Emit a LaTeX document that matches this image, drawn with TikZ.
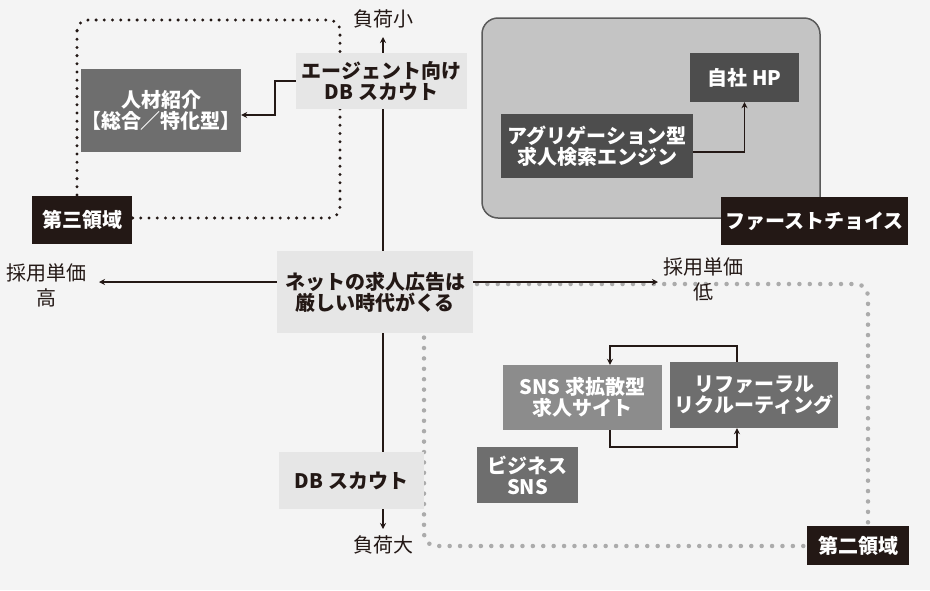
\documentclass[tikz,border=0pt]{standalone}
\usepackage{fontspec}
\setmainfont{Noto Sans CJK JP}
\usetikzlibrary{arrows.meta}
\definecolor{paper}{HTML}{F4F4F4}
\definecolor{ink}{HTML}{231815}
\definecolor{pale}{HTML}{E6E6E6}
\definecolor{zone}{HTML}{C4C4C4}
\definecolor{zoneline}{HTML}{5A5A5A}
\definecolor{deep}{HTML}{4D4D4D}
\definecolor{mid}{HTML}{6E6E6E}
\definecolor{soft}{HTML}{8C8C8C}
\definecolor{dots}{HTML}{ABABAB}
\tikzset{
  box/.style={inner sep=0pt, align=center, font=\fontsize{20}{21}\selectfont\bfseries},
  palebox/.style={box, fill=pale, text=ink},
  greybox/.style={box, fill=#1, text=white},
  tagbox/.style={box, fill=ink, text=white},
  axislabel/.style={align=center, text=ink, font=\fontsize{20}{25}\selectfont},
  conn/.style={draw=ink, line width=1.6pt, -{Stealth[length=6pt,width=6pt]}},
  darkdots/.style={draw=ink, line width=3.3pt, line cap=round, dash pattern=on 0pt off 8.2pt},
  lightdots/.style={draw=dots, line width=4.5pt, line cap=round, dash pattern=on 0pt off 10.4pt}
}
\begin{document}
\begin{tikzpicture}[x=1pt, y=-1pt]
    \fill [paper] (0,0) rectangle (930,590);
    \useasboundingbox (0,0) rectangle (930,590);
    \filldraw [fill=zone, draw=zoneline, line width=1.5pt, rounded corners=16] (482,18) rectangle (820,218);
    \draw [darkdots, rounded corners=11] (77,20) rectangle (340,218);
    \draw [lightdots, rounded corners=12] (424,284) rectangle (868,546);

    \coordinate (axtop) at (383,37);
    \coordinate (axbot) at (383,529);
    \coordinate (axleft) at (99,282);
    \coordinate (axright) at (658,282);

    \node [palebox, minimum width=171, minimum height=56] (agent) at (381.5,81) {エージェント向け\\DB スカウト};
    \node [palebox, minimum width=196, minimum height=82] (net) at (375,292) {ネットの求人広告は\\厳しい時代がくる};
    \node [palebox, minimum width=145, minimum height=57] (dbscout) at (351.5,480.5) {DB スカウト};
    \node [greybox=mid, minimum width=156, minimum height=83] (jinzai) at (161,110.5) {人材紹介\\【総合／特化型】};
    \node [tagbox, minimum width=100, minimum height=48] (daisan) at (82,220) {第三領域};
    \node [greybox=deep, minimum width=109, minimum height=49] (jisha) at (744.5,77.5) {自社 HP};
    \node [greybox=deep, minimum width=192, minimum height=64] (agg) at (597,146) {アグリゲーション型\\求人検索エンジン};
    \node [tagbox, minimum width=187, minimum height=48] (first) at (814.5,221) {ファーストチョイス};
    \node [greybox=soft, minimum width=159, minimum height=65] (sns) at (582.5,397.5) {SNS 求拡散型\\求人サイト};
    \node [greybox=mid, minimum width=168, minimum height=66] (referral) at (754,395) {リファーラル\\リクルーティング};
    \node [greybox=mid, minimum width=101, minimum height=56] (bizsns) at (527.5,475) {ビジネス\\SNS};
    \node [tagbox, minimum width=102, minimum height=39] (daini) at (858,545.5) {第二領域};

    \node [axislabel] (lightload) at (383,19) {負荷小};
    \node [axislabel] (heavyload) at (383,545) {負荷大};
    \node [axislabel] (highcost) at (46,285) {採用単価\\高};
    \node [axislabel] (lowcost) at (703,279) {採用単価\\低};

    \draw [conn] (axtop |- agent.north) -- (axtop);
    \draw [conn, -] (axtop |- agent.south) -- (axtop |- net.north);
    \draw [conn, -] (axtop |- net.south) -- (axtop |- dbscout.north);
    \draw [conn] (axbot |- dbscout.south) -- (axbot);
    \draw [conn] (net.west |- axleft) -- (axleft);
    \draw [conn] (net.east |- axright) -- (axright);

    \draw [conn] (agent.west) -- ++(-21,0) |- ([yshift=-4.5pt]jinzai.east);
    \draw [conn] ([yshift=-6pt]agg.east) -| (jisha.south);
    \draw [conn] ([xshift=-17pt]referral.north) -- ++(0,-16) -| ([xshift=27.5pt]sns.north);
    \draw [conn] ([xshift=27.5pt]sns.south) -- ++(0,17) -| ([xshift=-17pt]referral.south);
\end{tikzpicture}
\end{document}
